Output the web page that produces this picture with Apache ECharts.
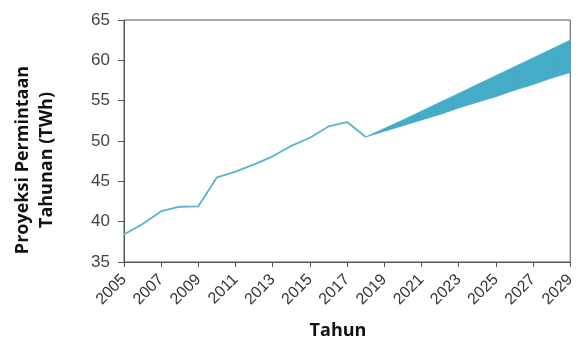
<!DOCTYPE html>
<html><head><meta charset="utf-8">
<script src="https://cdn.jsdelivr.net/npm/echarts@6/dist/echarts.min.js"></script>
<style>html,body{margin:0;padding:0;background:#fff}#c{width:578px;height:349px}</style>
</head><body><div id="c"></div>
<script>
const histYears = [2005,2006,2007,2008,2009,2010,2011,2012,2013,2014,2015,2016,2017,2018];
const histValues = [38.4,39.7,41.3,41.85,41.9,45.5,46.2,47.1,48.1,49.4,50.4,51.8,52.35,50.5];
const projYears = [2018,2019,2020,2021,2022,2023,2024,2025,2026,2027,2028,2029];
const projLow  = [50.5,51.2,51.9,52.6,53.3,54.1,54.8,55.5,56.3,57.0,57.8,58.5];
const projHigh = [50.5,51.55,52.6,53.7,54.8,55.9,57.0,58.1,59.2,60.3,61.4,62.5];
const xTicks = [2005,2007,2009,2011,2013,2015,2017,2019,2021,2023,2025,2027,2029];
const yTicks = [35,40,45,50,55,60,65];

const chart = echarts.init(document.getElementById('c'), null, {renderer:'canvas'});
const axisColor = '#555';
const bandColor = '#45acc8';
const bandData = projYears.map((y,i)=>[y,projLow[i],projHigh[i]]);
chart.setOption({
  animation:false,
  grid:{left:124,right:7,top:20,bottom:87,show:true,borderColor:axisColor,borderWidth:1},
  xAxis:{type:'value',min:xTicks[0],max:xTicks[xTicks.length-1],interval:2,
    axisLine:{show:true,lineStyle:{color:axisColor}},
    axisTick:{show:true,length:5,lineStyle:{color:axisColor}},
    splitLine:{show:false},
    axisLabel:{rotate:45,fontSize:16,color:'#333',fontFamily:'Liberation Sans',margin:15,formatter:v=>String(v)}},
  yAxis:{type:'value',min:yTicks[0],max:yTicks[yTicks.length-1],interval:5,
    axisLine:{show:true,lineStyle:{color:axisColor}},
    axisTick:{show:true,length:6,lineStyle:{color:axisColor}},
    splitLine:{show:false},
    axisLabel:{fontSize:17,color:'#444',fontFamily:'Liberation Sans',margin:14}},
  graphic:[
    {type:'text',x:23,y:160,rotation:Math.PI/2,style:{text:'Proyeksi Permintaan',font:'bold 18px "Open Sans"',fill:'#111',align:'center',verticalAlign:'middle'}},
    {type:'text',x:47,y:160,rotation:Math.PI/2,style:{text:'Tahunan (TWh)',font:'bold 18px "Open Sans"',fill:'#111',align:'center',verticalAlign:'middle'}},
    {type:'text',x:338,y:331,style:{text:'Tahun',font:'bold 18px "Open Sans"',fill:'#111',align:'center',verticalAlign:'middle'}}
  ],
  series:[
    {type:'custom',data:bandData,clip:true,
      renderItem:function(params,api){
        const i=params.dataIndex;
        if(i>=bandData.length-1) return null;
        const a=bandData[i], b=bandData[i+1];
        const pts=[api.coord([a[0],a[1]]),api.coord([b[0],b[1]]),api.coord([b[0],b[2]]),api.coord([a[0],a[2]])];
        return {type:'polygon',shape:{points:pts},style:{fill:bandColor,stroke:bandColor,lineWidth:0.8}};
      }},
    {type:'line',data:histYears.map((y,i)=>[y,histValues[i]]),symbol:'none',lineStyle:{color:'#5ab4c9',width:1.8}}
  ]
});
</script></body></html>
